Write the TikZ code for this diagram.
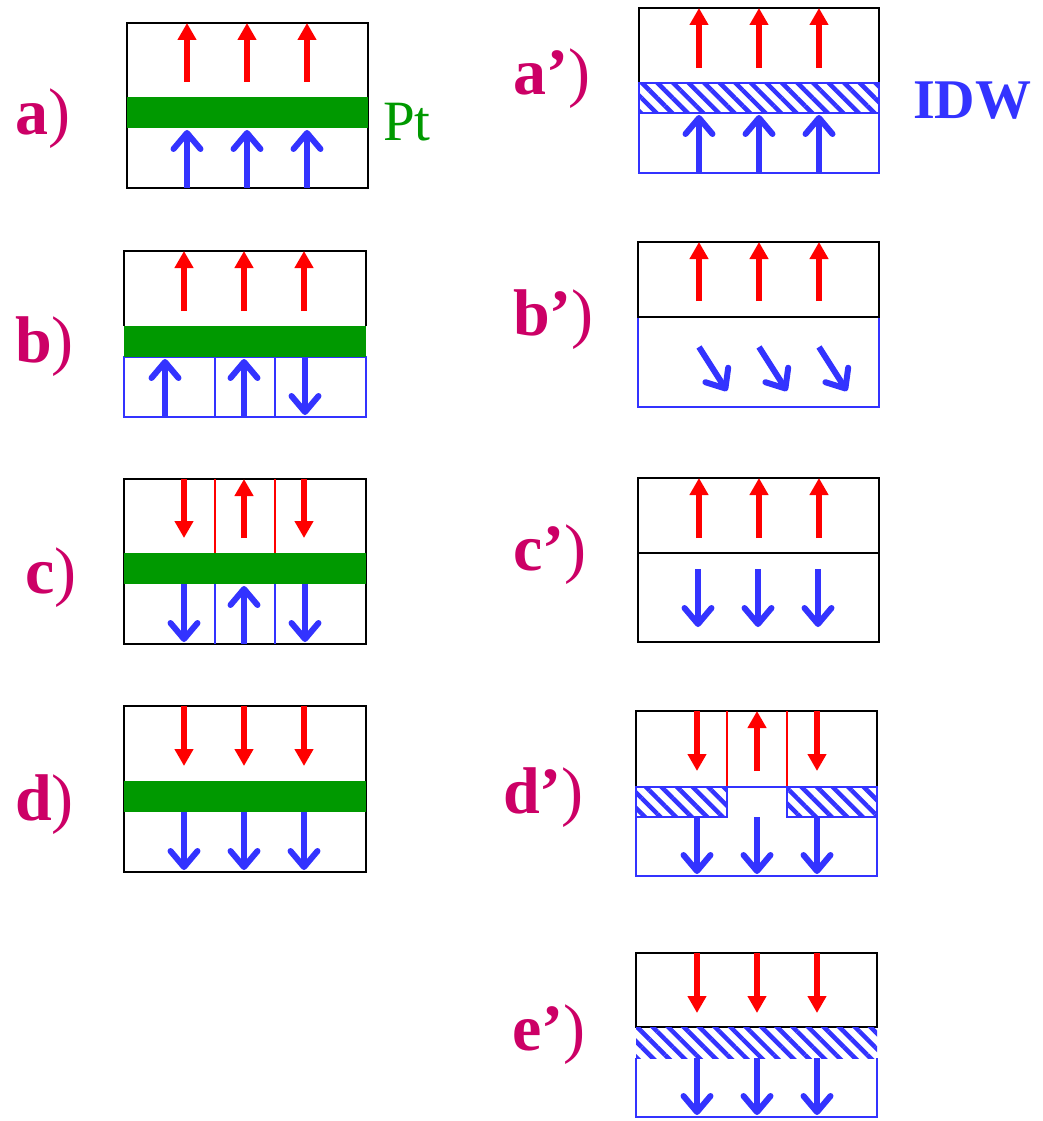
\documentclass[tikz,border=0pt]{standalone}
\usepackage{fontspec}
\setmainfont{Liberation Serif}
\usetikzlibrary{arrows.meta, patterns.meta}
\definecolor{spinred}{RGB}{255,0,0}
\definecolor{spinblue}{RGB}{51,51,255}
\definecolor{ptgreen}{RGB}{0,153,0}
\definecolor{lblc}{RGB}{204,0,102}
\tikzset{
  redspin/.style={-{Triangle[length=17pt,width=18pt]}, line width=6.5pt, draw=spinred},
  bluespin/.style={-{Straight Barb[length=16pt,width=27pt,round]}, line width=6pt, draw=spinblue},
  frame/.style={line width=1.8pt, draw=black},
  bframe/.style={line width=1.8pt, draw=spinblue},
  rwall/.style={line width=1.5pt, draw=spinred},
  ptlayer/.style={fill=ptgreen},
  idwlayer/.style={pattern={Lines[angle=-45,distance=11pt,line width=4.5pt]}, pattern color=spinblue},
  lbl/.style={anchor=base west, text=lblc, inner sep=0pt, font=\fontsize{66}{66}\selectfont},
}
\begin{document}
\begin{tikzpicture}[x=1pt, y=-1pt]
  \useasboundingbox (0,0) rectangle (1042,1121);

  % a) Pt, all up
  \draw[frame] (127,23) rectangle (368,188);
  \fill[ptlayer] (127,97) rectangle (368,128);
  \foreach \x in {187,247,307} {
    \draw[redspin] (\x,82) -- (\x,23);
    \draw[bluespin] (\x,188) -- (\x,130);
  }
  \node[lbl] (la) at (15,135) {\textbf{a})};
  \node[anchor=base west, inner sep=0pt, text=ptgreen,
    font=\fontsize{57}{57}\selectfont] (pt) at (383,140) {Pt};

  % b) Pt, domains below
  \draw[frame] (124,326) -- (124,251) -- (366,251) -- (366,326);
  \draw[bframe] (124,357) rectangle (366,417);
  \draw[bframe] (215,357) -- (215,417) (275,357) -- (275,417);
  \fill[ptlayer] (124,326) rectangle (366,357);
  \foreach \x in {184,244,304} \draw[redspin] (\x,311) -- (\x,251);
  \foreach \x in {165,244} \draw[bluespin] (\x,417) -- (\x,359);
  \draw[bluespin] (305,357) -- (305,415);
  \node[lbl] (lb) at (15,362) {\textbf{b})};

  % c) Pt, domains both sides
  \draw[frame] (124,479) rectangle (366,644);
  \draw[rwall] (215,479) -- (215,553) (275,479) -- (275,553);
  \draw[bframe] (215,584) -- (215,644) (275,584) -- (275,644);
  \fill[ptlayer] (124,553) rectangle (366,584);
  \draw[redspin] (184,479) -- (184,538);
  \draw[redspin] (244,538) -- (244,479);
  \draw[redspin] (304,479) -- (304,538);
  \draw[bluespin] (184,584) -- (184,642);
  \draw[bluespin] (244,644) -- (244,586);
  \draw[bluespin] (305,584) -- (305,642);
  \node[lbl] (lc) at (25,593) {\textbf{c})};

  % d) Pt, all down
  \draw[frame] (124,706) rectangle (366,872);
  \fill[ptlayer] (124,781) rectangle (366,812);
  \foreach \x in {184,244,304} {
    \draw[redspin] (\x,706) -- (\x,766);
    \draw[bluespin] (\x,812) -- (\x,870);
  }
  \node[lbl] (ld) at (15,820) {\textbf{d})};

  % a') IDW, all up
  \draw[frame] (639,83) -- (639,8) -- (879,8) -- (879,83);
  \draw[bframe, idwlayer] (639,83) rectangle (879,113);
  \draw[bframe] (639,113) -- (639,173) -- (879,173) -- (879,113);
  \foreach \x in {699,759,819} {
    \draw[redspin] (\x,68) -- (\x,8);
    \draw[bluespin] (\x,173) -- (\x,115);
  }
  \node[lbl] (lap) at (513,95) {\textbf{a’})};
  \node[anchor=base west, inner sep=0pt, text=spinblue,
    font=\bfseries\fontsize{56}{56}\selectfont] (idw) at (913,118) {IDW};

  % b') tilted lower spins
  \draw[bframe] (638,317) -- (638,407) -- (879,407) -- (879,317);
  \draw[frame] (638,242) rectangle (879,317);
  \foreach \x in {699,759,819} {
    \draw[redspin] (\x,301) -- (\x,242);
    \draw[bluespin] (\x,347) -- (\x+28,391);
  }
  \node[lbl] (lbp) at (513,335) {\textbf{b’})};

  % c') antiparallel
  \draw[frame] (638,478) rectangle (879,642);
  \draw[frame] (638,553) -- (879,553);
  \foreach \x in {699,759,819} \draw[redspin] (\x,538) -- (\x,478);
  \foreach \x in {698,758,818} \draw[bluespin] (\x,569) -- (\x,627);
  \node[lbl] (lcp) at (513,570) {\textbf{c’})};

  % d') IDW broken in the middle
  \draw[frame] (636,787) -- (636,711) -- (877,711) -- (877,787);
  \draw[rwall] (727,711) -- (727,787) (787,711) -- (787,787);
  \draw[bframe, idwlayer] (636,787) rectangle (727,817);
  \draw[bframe, idwlayer] (787,787) rectangle (877,817);
  \draw[bframe] (727,787) -- (787,787);
  \draw[bframe] (636,817) -- (636,876) -- (877,876) -- (877,817);
  \draw[redspin] (697,711) -- (697,771);
  \draw[redspin] (757,771) -- (757,711);
  \draw[redspin] (817,711) -- (817,771);
  \foreach \x in {697,757,817} \draw[bluespin] (\x,817) -- (\x,874);
  \node[lbl] (ldp) at (503,813) {\textbf{d’})};

  % e') IDW, all down
  \draw[frame] (636,953) rectangle (877,1027);
  \draw[bframe] (636,1058) -- (636,1117) -- (877,1117) -- (877,1058);
  \fill[idwlayer] (636,1027) rectangle (877,1058);
  \foreach \x in {697,757,817} {
    \draw[redspin] (\x,953) -- (\x,1013);
    \draw[bluespin] (\x,1058) -- (\x,1115);
  }
  \node[lbl] (lep) at (512,1050) {\textbf{e’})};
\end{tikzpicture}
\end{document}
